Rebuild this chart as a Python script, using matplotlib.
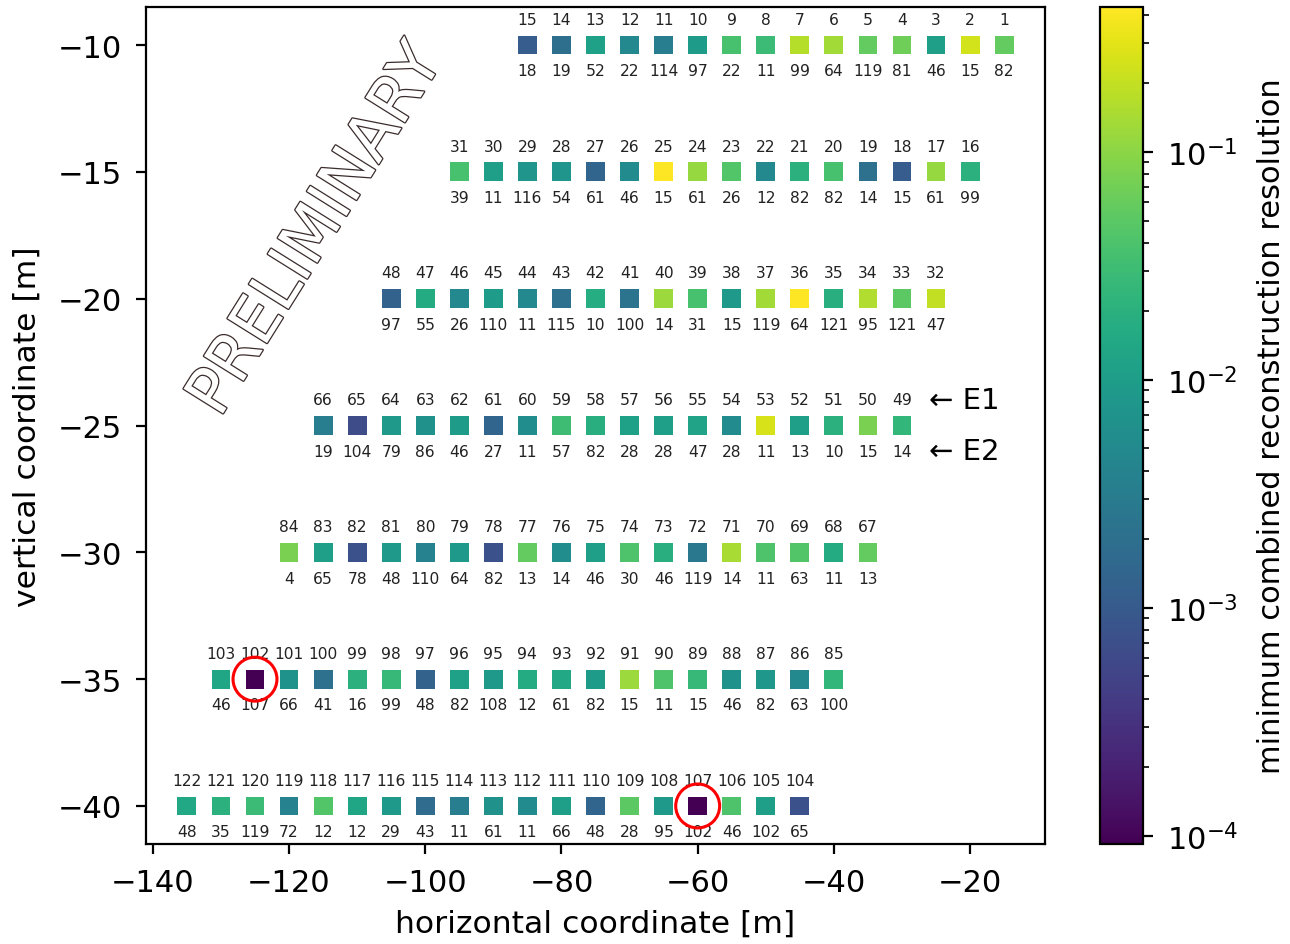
"""
Station layout map: each square is one channel, coloured by its minimum
combined reconstruction resolution (log scale). Channel id above, second
index below; channels with the worst resolution are circled in red.
"""

import matplotlib.pyplot as plt
import matplotlib.patheffects as pe
import numpy as np
from matplotlib.colors import LogNorm

# ---------------------------------------------------------------------------
# Data: one entry per row of stations, listed left to right
# ---------------------------------------------------------------------------

ROW_Y = [-10, -15, -20, -25, -30, -35, -40]
ROW_X_FIRST = [-85, -95, -105, -115, -120, -130, -135]
ROW_X_LAST = [-15, -20, -25, -30, -35, -40, -45]
SPACING = 5

CHANNEL_IDS = [
    list(range(15, 0, -1)),
    list(range(31, 15, -1)),
    list(range(48, 31, -1)),
    list(range(66, 48, -1)),
    list(range(84, 66, -1)),
    list(range(103, 84, -1)),
    list(range(122, 103, -1)),
]

LOWER_LABELS = [
    [18, 19, 52, 22, 114, 97, 22, 11, 99, 64, 119, 81, 46, 15, 82],
    [39, 11, 116, 54, 61, 46, 15, 61, 26, 12, 82, 82, 14, 15, 61, 99],
    [97, 55, 26, 110, 11, 115, 10, 100, 14, 31, 15, 119, 64, 121, 95, 121, 47],
    [19, 104, 79, 86, 46, 27, 11, 57, 82, 28, 28, 47, 28, 11, 13, 10, 15, 14],
    [4, 65, 78, 48, 110, 64, 82, 13, 14, 46, 30, 46, 119, 14, 11, 63, 11, 13],
    [46, 107, 66, 41, 16, 99, 48, 82, 108, 12, 61, 82, 15, 11, 15, 46, 82, 63, 100],
    [48, 35, 119, 72, 12, 12, 29, 43, 11, 61, 11, 66, 48, 28, 95, 102, 46, 102, 65],
]

RESOLUTION = [
    [1.07e-3, 1.93e-3, 1.14e-2, 4.90e-3, 3.21e-3, 9.62e-3, 3.72e-2, 2.89e-2,
     0.170, 0.132, 5.67e-2, 6.72e-2, 1.05e-2, 0.239, 5.67e-2],
    [3.72e-2, 1.05e-2, 7.47e-3, 7.47e-3, 1.38e-3, 5.33e-3, 0.432, 0.112,
     4.40e-2, 4.90e-3, 2.06e-2, 3.72e-2, 2.10e-3, 1.07e-3, 0.112, 2.06e-2],
    [1.27e-3, 1.60e-2, 4.90e-3, 9.62e-3, 4.90e-3, 2.10e-3, 1.74e-2, 2.29e-3,
     0.121, 3.72e-2, 8.85e-3, 0.132, 0.432, 1.89e-2, 0.156, 5.21e-2, 0.202],
    [3.21e-3, 6.40e-4, 8.85e-3, 6.31e-3, 9.62e-3, 1.38e-3, 5.80e-3, 3.14e-2,
     1.89e-2, 1.14e-2, 1.05e-2, 1.24e-2, 5.33e-3, 0.260, 1.05e-2, 2.06e-2,
     7.96e-2, 2.44e-2],
    [7.96e-2, 1.05e-2, 7.60e-4, 8.85e-3, 3.80e-3, 8.85e-3, 7.60e-4, 5.67e-2,
     5.80e-3, 1.05e-2, 4.05e-2, 1.89e-2, 2.71e-3, 0.144, 4.05e-2, 4.40e-2,
     1.60e-2, 5.67e-2],
    [1.35e-2, 9.2e-5, 6.87e-3, 2.10e-3, 2.06e-2, 2.65e-2, 1.27e-3, 1.14e-2,
     8.85e-3, 1.60e-2, 1.47e-2, 9.62e-3, 0.121, 4.05e-2, 2.65e-2, 6.87e-3,
     8.13e-3, 4.90e-3, 2.44e-2],
    [1.47e-2, 2.06e-2, 2.89e-2, 3.80e-3, 4.40e-2, 1.35e-2, 8.85e-3, 1.77e-3,
     3.21e-3, 6.31e-3, 5.33e-3, 1.05e-2, 1.38e-3, 5.21e-2, 8.85e-3, 9.2e-5,
     4.05e-2, 1.05e-2, 7.60e-4],
]

FLAGGED = [102, 107]

NUM_FONT = ["Liberation Sans Narrow", "DejaVu Sans"]

# ---------------------------------------------------------------------------
# Flatten rows
# ---------------------------------------------------------------------------

xs, ys, ids, lows, res = [], [], [], [], []
for y, x0, x1, ch, lo, r in zip(ROW_Y, ROW_X_FIRST, ROW_X_LAST,
                                CHANNEL_IDS, LOWER_LABELS, RESOLUTION):
    row_x = np.arange(x0, x1 + 1, SPACING)
    xs.extend(row_x)
    ys.extend([y] * len(row_x))
    ids.extend(ch)
    lows.extend(lo)
    res.extend(r)

xs = np.array(xs, float)
ys = np.array(ys, float)
res = np.array(res, float)

# ---------------------------------------------------------------------------
# Figure
# ---------------------------------------------------------------------------

fig = plt.figure(figsize=(6.45, 4.725), dpi=200)
ax = fig.add_axes([0.1132, 0.1058, 0.6969, 0.8857])
cax = fig.add_axes([0.8527, 0.1058, 0.0333, 0.8857])

sc = ax.scatter(xs, ys, c=res, cmap="viridis",
                norm=LogNorm(vmin=res.min(), vmax=res.max()),
                marker="s", s=46, edgecolors="none", zorder=3)

for x, y, top, bot in zip(xs, ys, ids, lows):
    ax.annotate(str(top), (x, y), xytext=(0, 9.3), textcoords="offset points",
                ha="center", va="center", fontsize=5.6, color="#222",
                family=NUM_FONT)
    ax.annotate(str(bot), (x, y), xytext=(0, -9.3), textcoords="offset points",
                ha="center", va="center", fontsize=5.6, color="#222",
                family=NUM_FONT)

flag = np.isin(ids, FLAGGED)
ax.scatter(xs[flag], ys[flag], marker="o", s=250, facecolors="none",
           edgecolors="red", linewidths=1.1, zorder=4)

# row markers for the two sub-arrays
ax.annotate("\u2190 E1", (-26, -25), xytext=(0, 9.3), textcoords="offset points",
            ha="left", va="center", fontsize=10.5)
ax.annotate("\u2190 E2", (-26, -25), xytext=(0, -9.3), textcoords="offset points",
            ha="left", va="center", fontsize=10.5)

ax.text(-116, -17.3, "PRELIMINARY", rotation=58, ha="center", va="center",
        fontsize=23, color="white", zorder=2,
        path_effects=[pe.withStroke(linewidth=0.9, foreground="#3a2c2c")])

ax.set_xlabel("horizontal coordinate [m]", fontsize=11.3, labelpad=4.5)
ax.set_ylabel("vertical coordinate [m]", fontsize=11.3, labelpad=6)
ax.tick_params(labelsize=11, pad=5)

cb = fig.colorbar(sc, cax=cax)
cb.set_label("minimum combined reconstruction resolution", fontsize=11,
             labelpad=7)
cb.ax.tick_params(labelsize=11, pad=5)

fig.savefig("out.png", dpi=200)
